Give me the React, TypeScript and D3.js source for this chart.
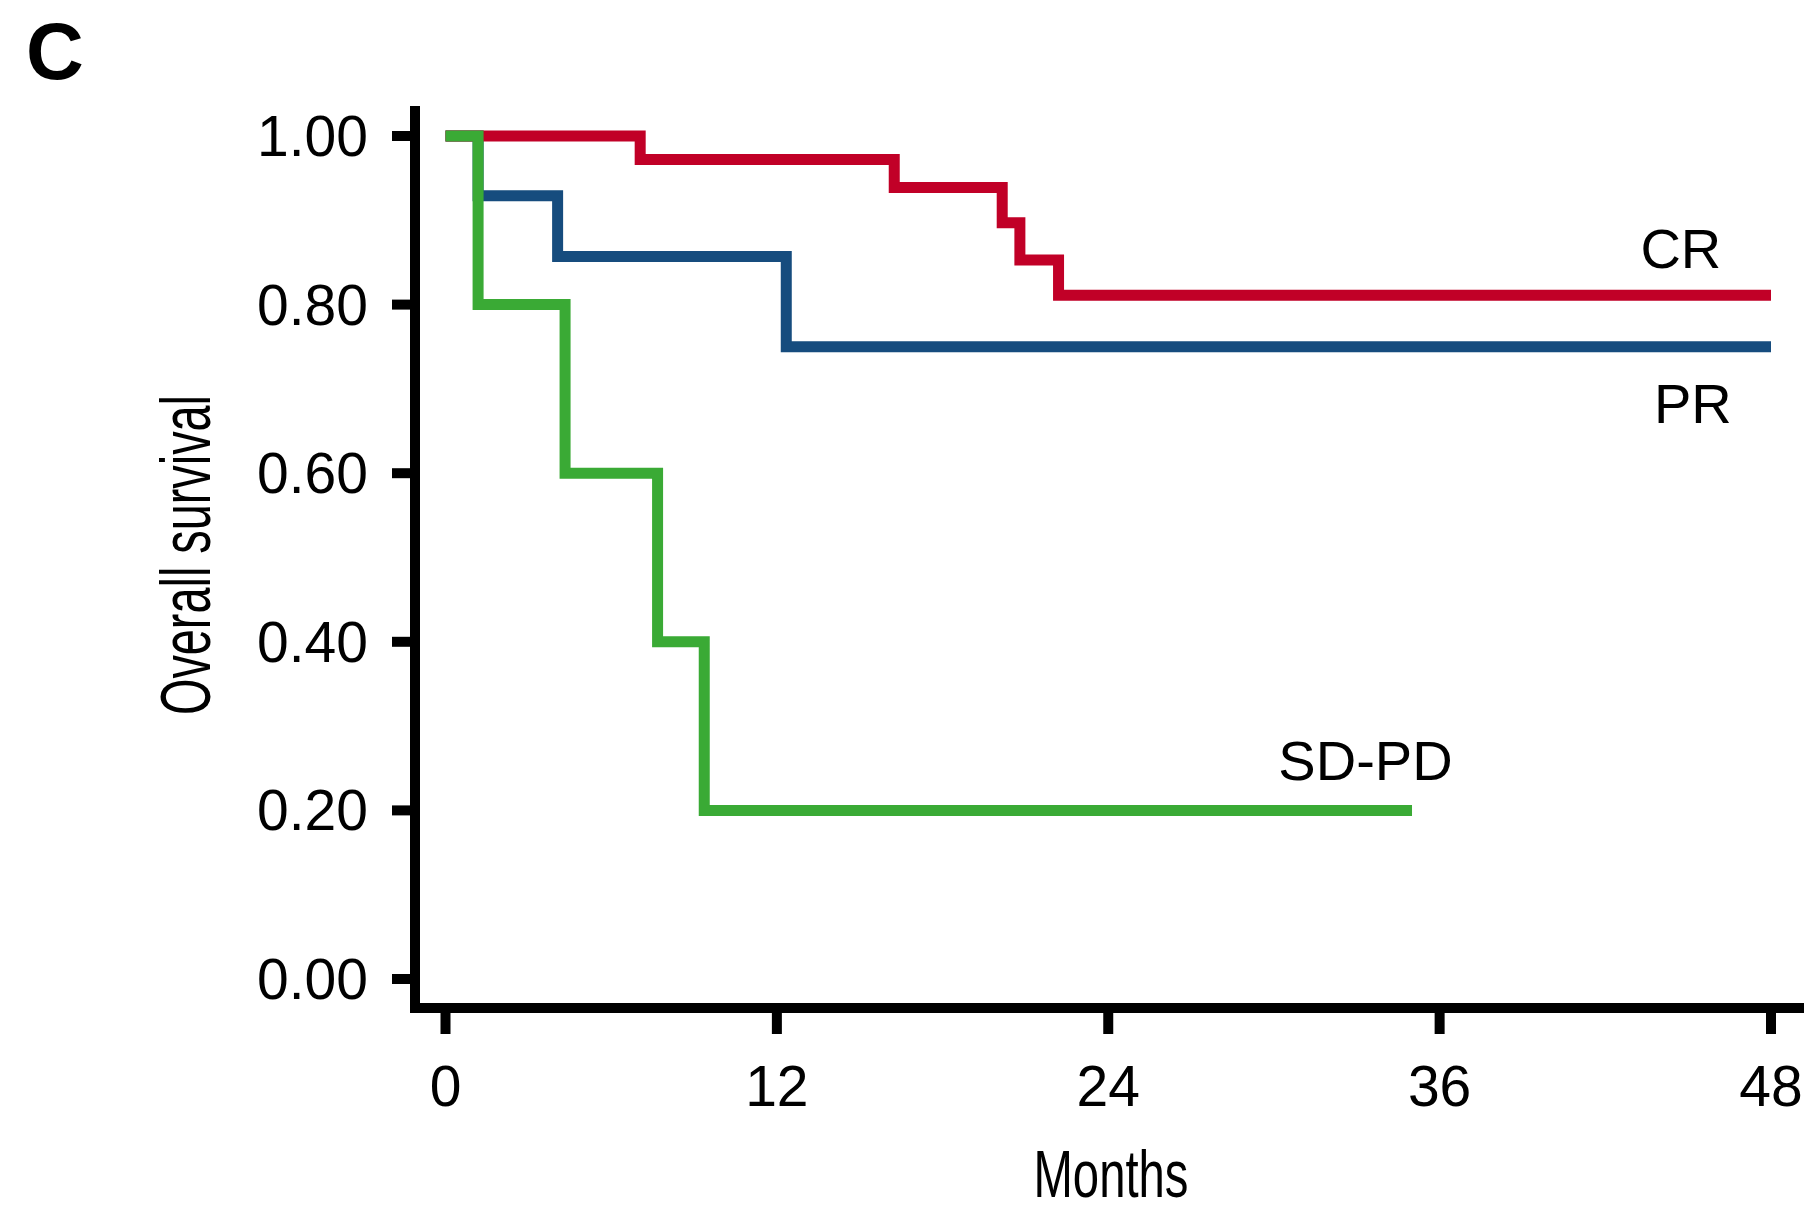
import React from "react";
import * as d3 from "d3";

// ---- data ----
const xTicks = [0, 12, 24, 36, 48];
const yTicks = [0, 0.2, 0.4, 0.6, 0.8, 1.0];

const crTimes = [0, 7.05, 16.25, 20.16, 20.8, 22.2, 48];
const crSurv = [1, 0.972, 0.939, 0.897, 0.853, 0.811, 0.811];

const prTimes = [0, 1.18, 4.06, 12.34, 48];
const prSurv = [1, 0.929, 0.857, 0.75, 0.75];

const sdTimes = [0, 1.18, 4.33, 7.68, 9.37, 35.0];
const sdSurv = [1, 0.8, 0.6, 0.4, 0.2, 0.2];

const seriesNames = ["PR", "CR", "SD-PD"];
const seriesColors = ["#164C7E", "#C10027", "#3AAA35"];
// label anchor (end) positions in data units: month, survival (baseline)
const labelMonths = [46.58, 46.2, 36.47];
const labelSurv = [0.6595, 0.8434, 0.236];

const W = 1811;
const H = 1211;
const FONT = "'Liberation Sans', Arial, Helvetica, sans-serif";

export default function App() {
  const x = d3.scaleLinear().domain([0, 48]).range([445.5, 1771]);
  const y = d3.scaleLinear().domain([0, 1]).range([979, 136]);

  const line = d3
    .line<[number, number]>()
    .x((d) => x(d[0]))
    .y((d) => y(d[1]))
    .curve(d3.curveStepAfter);

  const series = [
    d3.zip(prTimes, prSurv) as [number, number][],
    d3.zip(crTimes, crSurv) as [number, number][],
    d3.zip(sdTimes, sdSurv) as [number, number][],
  ];

  const axisX = 415;
  const axisY = 1008;
  const axisTop = 106;
  const axisRight = 1804;

  return (
    <svg
      width={W}
      height={H}
      style={{ position: "absolute", left: 0, top: 0, display: "block", background: "#fff" }}
      fontFamily={FONT}
    >
      <rect x={0} y={0} width={W} height={H} fill="#fff" />
      {/* panel letter */}
      <text x={26} y={79} fontSize={80} fontWeight="bold" fill="#000">
        C
      </text>

      {/* curves */}
      {series.map((s, i) => (
        <path
          key={seriesNames[i]}
          d={line(s) || ""}
          fill="none"
          stroke={seriesColors[i]}
          strokeWidth={11}
          strokeLinecap="butt"
          strokeLinejoin="miter"
        />
      ))}

      {/* axes */}
      <path
        d={`M${axisX},${axisTop} V${axisY} H${axisRight}`}
        fill="none"
        stroke="#000"
        strokeWidth={10}
        strokeLinejoin="miter"
      />
      {yTicks.map((t) => (
        <g key={"y" + t}>
          <line x1={392} x2={axisX} y1={y(t)} y2={y(t)} stroke="#000" strokeWidth={10} />
          <text x={368} y={y(t) + 20} fontSize={57} textAnchor="end" fill="#000">
            {t.toFixed(2)}
          </text>
        </g>
      ))}
      {xTicks.map((t) => (
        <g key={"x" + t}>
          <line x1={x(t)} x2={x(t)} y1={axisY} y2={1034} stroke="#000" strokeWidth={10} />
          <text x={x(t)} y={1106} fontSize={57} textAnchor="middle" fill="#000">
            {t}
          </text>
        </g>
      ))}

      {/* series labels */}
      {seriesNames.map((n, i) => (
        <text
          key={"l" + n}
          x={x(labelMonths[i])}
          y={y(labelSurv[i])}
          fontSize={56}
          textAnchor="end"
          fill="#000"
        >
          {n}
        </text>
      ))}

      {/* axis titles */}
      <text
        x={1111}
        y={1197}
        fontSize={66}
        textAnchor="middle"
        textLength={155}
        lengthAdjust="spacingAndGlyphs"
        fill="#000"
      >
        Months
      </text>
      <text
        transform={`translate(210,555) rotate(-90)`}
        x={0}
        y={0}
        fontSize={70}
        textAnchor="middle"
        textLength={320}
        lengthAdjust="spacingAndGlyphs"
        fill="#000"
      >
        Overall survival
      </text>
    </svg>
  );
}
